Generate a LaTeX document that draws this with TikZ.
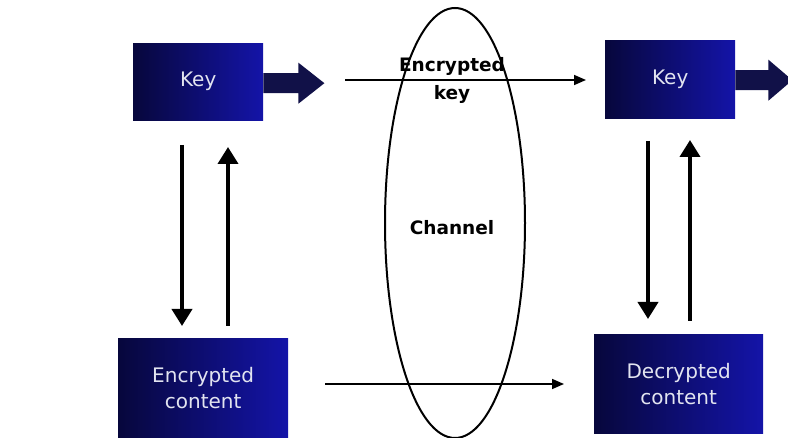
\documentclass[tikz,border=0pt]{standalone}
\usepackage{fontspec}
\setmainfont{DejaVu Sans}
\usetikzlibrary{arrows.meta,shapes.geometric}
\definecolor{navydark}{HTML}{07073C}
\definecolor{navymid}{HTML}{1414A8}
\definecolor{arrownavy}{HTML}{111148}
\definecolor{paneltext}{HTML}{E2E4F0}
\tikzset{
  panel/.style={draw=none, left color=navydark, right color=navymid,
    text=paneltext, font=\fontsize{20}{26}\selectfont, align=center,
    inner sep=0pt, anchor=north west},
  blockarrow/.style={fill=arrownavy, draw=none},
  flow/.style={line width=3.8pt, -{Triangle[width=20pt,length=17pt]}},
  wire/.style={line width=1.6pt, -{Triangle[width=10pt,length=12pt]}},
  midtext/.style={font=\bfseries\fontsize{18.5}{28}\selectfont, text=black,
    align=center}
}
\begin{document}
\begin{tikzpicture}[x=1pt,y=-1pt]
  \useasboundingbox (0,0) rectangle (788,438);

  % channel
  \node (chan) [ellipse, draw, line width=2pt, minimum width=140pt,
    minimum height=430pt, inner sep=0pt] at (455,223) {};
  \node (chanlbl) [midtext] at (452,228) {Channel};

  % panels
  \node (keyA) [panel, minimum width=130pt, minimum height=77pt] at (133,43) {Key};
  \node (keyB) [panel, minimum width=130pt, minimum height=78pt] at (605,40) {Key};
  \node (enc) [panel, minimum width=170pt, minimum height=100pt] at (118,338)
    {Encrypted\\content};
  \node (dec) [panel, minimum width=169pt, minimum height=99pt] at (594,334)
    {Decrypted\\content};

  % block arrows leaving the key panels (shaft, then head)
  \fill[blockarrow] ([yshift=-1.5pt]keyA.east) ++(0,-10) -- ++(35,0) -- ++(0,-10.5)
    -- ++(26,20.5) -- ++(-26,20.5) -- ++(0,-10.5) -- ++(-35,0) -- cycle;
  \fill[blockarrow] ([yshift=-1pt]keyB.east) ++(0,-10) -- ++(33,0) -- ++(0,-10.5)
    -- ++(24,20.5) -- ++(-24,20.5) -- ++(0,-10.5) -- ++(-33,0) -- cycle;

  % key transfer across the channel
  \coordinate (sendA) at (345,80);
  \coordinate (recvB) at (586,80);
  \draw[wire] (sendA) -- (recvB);
  \node (ekey) [midtext] at (452,80) {Encrypted\\key};

  % content transfer across the channel
  \coordinate (sendC) at (325,384);
  \coordinate (recvD) at (564,384);
  \draw[wire] (sendC) -- (recvD);

  % vertical flows on the sender side
  \draw[flow] (182,145) -- (182,326);
  \draw[flow] (228,326) -- (228,147);

  % vertical flows on the receiver side
  \draw[flow] (648,141) -- (648,319);
  \draw[flow] (690,321) -- (690,140);
\end{tikzpicture}
\end{document}
